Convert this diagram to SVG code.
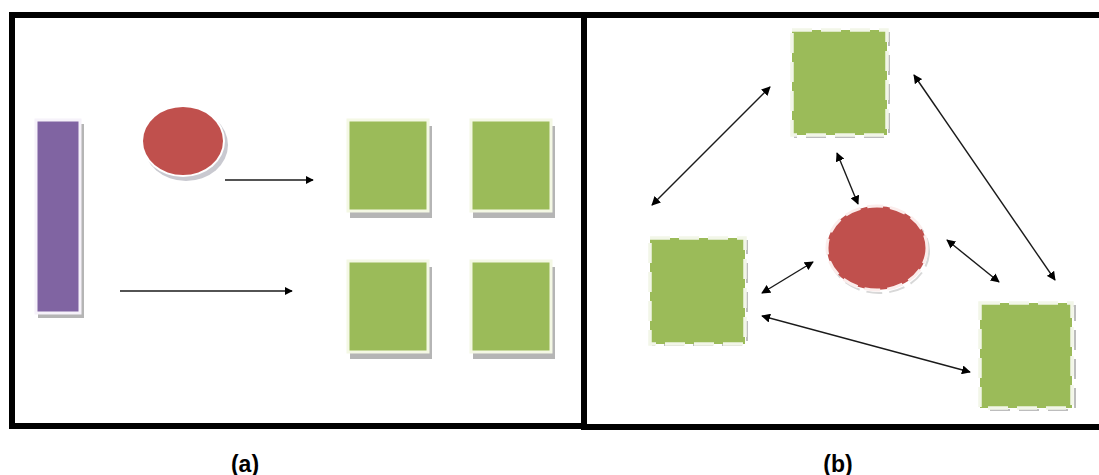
<svg xmlns="http://www.w3.org/2000/svg" width="1099" height="475" viewBox="0 0 1099 475">
<defs>
<style>
.frame{fill:none;stroke:#000;stroke-width:6}
.green{fill:#9BBB59}
.gborder{fill:none;stroke:#F4F8E4;stroke-width:3}
.shadow{fill:#B5B5B5}
.dash{fill:none;stroke:#F2F6E8;stroke-width:3.5;stroke-dasharray:20 9}
.dshadow{fill:none;stroke:#BDBDBD;stroke-width:2;stroke-dasharray:20 9}
.conn{stroke:#1a1a1a;stroke-width:1.4;fill:none}
.label{font-family:"Liberation Sans",Arial,sans-serif;font-weight:bold;font-size:23px;fill:#000}
</style>
<marker id="ah" viewBox="0 0 10 10" refX="9" refY="5" markerWidth="8" markerHeight="8" markerUnits="userSpaceOnUse" orient="auto-start-reverse">
<path d="M0,0 L10,5 L0,10 z" fill="#000"/>
</marker>
<marker id="ah2" viewBox="0 0 10 10" refX="9" refY="5" markerWidth="9" markerHeight="9" markerUnits="userSpaceOnUse" orient="auto-start-reverse">
<path d="M0,0 L10,5 L0,10 z" fill="#000"/>
</marker>
</defs>
<rect width="1099" height="475" fill="#fff"/>
<g id="frames">
<rect class="frame" x="12" y="15" width="572" height="411"/>
<rect class="frame" x="584" y="15" width="520" height="412"/>
</g>
<g id="panel-a">
<g id="a-bar">
<rect class="shadow" x="38" y="124" width="46" height="194"/>
<rect x="36" y="120" width="44" height="193" fill="#8064A2" stroke="#F6F2FA" stroke-width="3"/>
</g>
<g id="a-circle">
<ellipse cx="186" cy="145" rx="42" ry="36" fill="#C9C9D0"/>
<ellipse cx="183" cy="141" rx="42" ry="36" fill="#fff"/>
<ellipse cx="183" cy="141" rx="40" ry="34" fill="#C0504D"/>
</g>
<g id="a-g1">
<rect class="shadow" x="350" y="126" width="82" height="92"/>
<rect class="green" x="348" y="120" width="80" height="91"/>
<rect class="gborder" x="348" y="120" width="80" height="91"/>
</g>
<g id="a-g2">
<rect class="shadow" x="473" y="126" width="82" height="92"/>
<rect class="green" x="471" y="120" width="80" height="91"/>
<rect class="gborder" x="471" y="120" width="80" height="91"/>
</g>
<g id="a-g3">
<rect class="shadow" x="350" y="267" width="82" height="92"/>
<rect class="green" x="348" y="261" width="80" height="91"/>
<rect class="gborder" x="348" y="261" width="80" height="91"/>
</g>
<g id="a-g4">
<rect class="shadow" x="473" y="267" width="82" height="92"/>
<rect class="green" x="471" y="261" width="80" height="91"/>
<rect class="gborder" x="471" y="261" width="80" height="91"/>
</g>
</g>
<g id="panel-b">
<g id="b-top">
<rect class="dshadow" x="795" y="33" width="94" height="104"/>
<rect class="green" x="792" y="30" width="95" height="105"/>
<rect class="dash" x="792" y="30" width="95" height="105"/>
</g>
<g id="b-left">
<rect class="dshadow" x="653" y="241" width="94" height="104"/>
<rect class="green" x="650" y="238" width="95" height="106"/>
<rect class="dash" x="650" y="238" width="95" height="106"/>
</g>
<g id="b-right">
<rect class="dshadow" x="983" y="306" width="92" height="104"/>
<rect class="green" x="980" y="303" width="92" height="105"/>
<rect class="dash" x="980" y="303" width="92" height="105"/>
</g>
<g id="b-circle">
<ellipse cx="879" cy="251" rx="50" ry="42" fill="none" stroke="#D8D8D8" stroke-width="2" stroke-dasharray="16 7"/>
<ellipse cx="877" cy="248" rx="50" ry="42" fill="#C0504D"/>
<ellipse cx="877" cy="248" rx="50" ry="42" fill="none" stroke="#FBEDEC" stroke-width="3" stroke-dasharray="16 7"/>
</g>
</g>
<g id="connectors">
<line class="conn" x1="225" y1="180" x2="313" y2="180" marker-end="url(#ah)"/>
<line class="conn" x1="120" y1="291" x2="292" y2="291" marker-end="url(#ah)"/>
<line class="conn" x1="770" y1="87" x2="652" y2="205" marker-start="url(#ah2)" marker-end="url(#ah2)"/>
<line class="conn" x1="914" y1="75" x2="1055" y2="280" marker-start="url(#ah2)" marker-end="url(#ah2)"/>
<line class="conn" x1="837" y1="153" x2="858" y2="204" marker-start="url(#ah2)" marker-end="url(#ah2)"/>
<line class="conn" x1="947" y1="240" x2="999" y2="282" marker-start="url(#ah2)" marker-end="url(#ah2)"/>
<line class="conn" x1="813" y1="262" x2="762" y2="293" marker-start="url(#ah2)" marker-end="url(#ah2)"/>
<line class="conn" x1="762" y1="316" x2="970" y2="372" marker-start="url(#ah2)" marker-end="url(#ah2)"/>
</g>
<g id="labels">
<text class="label" x="245" y="472" text-anchor="middle">(a)</text>
<text class="label" x="838" y="472" text-anchor="middle">(b)</text>
</g>
</svg>
